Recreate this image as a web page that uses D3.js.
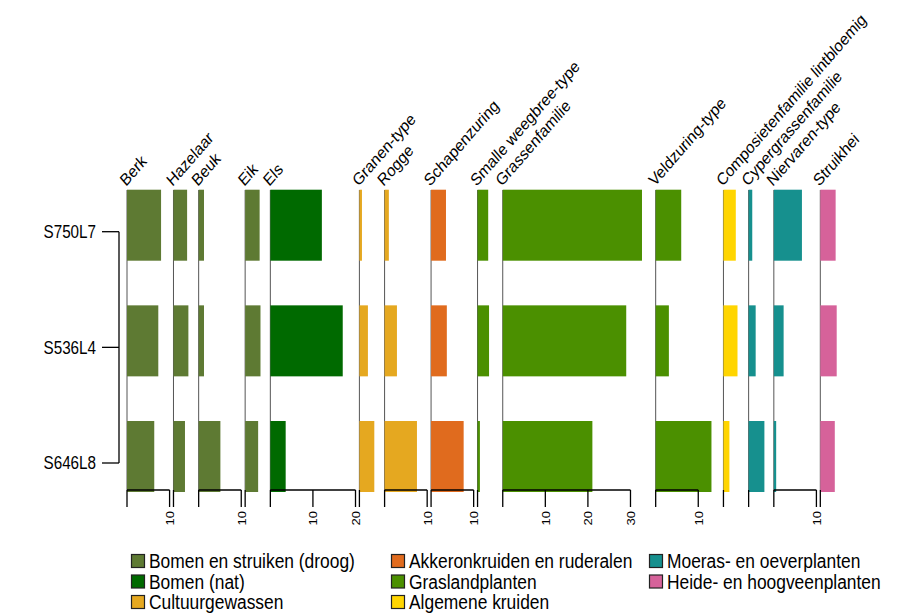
<!DOCTYPE html>
<html><head><meta charset="utf-8">
<script src="https://cdn.jsdelivr.net/npm/d3@7"></script>
<style>body{margin:0;background:#fff}svg{display:block}text{font-family:"Liberation Sans",Arial,sans-serif}</style>
</head><body><svg id="c" width="898" height="615"></svg>
<script>
const samples = ["S750L7","S536L4","S646L8"];
const taxa = ["Berk","Hazelaar","Beuk","Eik","Els","Granen-type","Rogge","Schapenzuring",
  "Smalle weegbree-type","Grassenfamilie","Veldzuring-type","Composietenfamilie lintbloemig",
  "Cypergrassenfamilie","Niervaren-type","Struikhei"];
const taxonGroup = ["droog","droog","droog","droog","nat","cultuur","cultuur","akker",
  "grasland","grasland","grasland","algemeen","moeras","moeras","heide"];
const valsS750L7 = [8.0,3.2,1.25,3.4,12.1,0.6,1.0,3.5,2.5,32.7,6.0,2.9,0.85,6.6,3.6];
const valsS536L4 = [7.35,3.5,1.25,3.6,17.0,2.0,2.9,3.7,2.7,29.0,3.1,3.3,1.65,2.3,3.85];
const valsS646L8 = [6.4,2.7,5.1,3.05,3.6,3.5,7.6,7.65,0.55,21.05,13.1,1.4,3.7,0.55,3.4];
const groupKeys = ["droog","nat","cultuur","akker","grasland","algemeen","moeras","heide"];
const groupLabels = ["Bomen en struiken (droog)","Bomen (nat)","Cultuurgewassen",
  "Akkeronkruiden en ruderalen","Graslandplanten","Algemene kruiden",
  "Moeras- en oeverplanten","Heide- en hoogveenplanten"];
const groupColors = ["#5e7a33","#006a00","#e5a820","#e06b1e","#4b9000","#ffd500","#16908e","#d6629a"];

const values = [valsS750L7, valsS536L4, valsS646L8];
const color = d3.scaleOrdinal(groupKeys, groupColors);
const svg = d3.select("#c");
const SX = 0.87; // horizontal squeeze of the lettering

// column layout
const plotL = 127, plotR = 841.6, gap = 3.9;
const colMax = taxa.map((t,i) => Math.ceil(d3.max(values, v => v[i]) / 5) * 5);
const totalUnits = d3.sum(colMax);
const k = (plotR - plotL - gap * (taxa.length - 1)) / totalUnits;
let cursor = plotL;
const xs = colMax.map(m => { const s = d3.scaleLinear().domain([0, m]).range([cursor, cursor + m * k]); cursor += m * k + gap; return s; });

const y = d3.scaleLinear().domain([0, samples.length - 1]).range([231.7, 463]);
const barTop = -42, barH = 71;
const topY = 190, botY = 490;

// column baselines
taxa.forEach((t,i) => {
  svg.append("line").attr("x1", xs[i](0)).attr("x2", xs[i](0)).attr("y1", topY).attr("y2", botY)
    .attr("stroke", "#555").attr("stroke-width", 1);
});

// bars
samples.forEach((s, j) => {
  svg.append("g").selectAll("rect").data(values[j]).join("rect")
    .attr("x", (d,i) => xs[i](0))
    .attr("width", (d,i) => xs[i](d) - xs[i](0))
    .attr("y", y(j) + barTop).attr("height", barH)
    .attr("fill", (d,i) => color(taxonGroup[i]));
});

// bottom axes
taxa.forEach((t,i) => {
  const sc = xs[i];
  const ticks = d3.range(0, colMax[i] + 0.001, 10);
  const g = svg.append("g");
  if (ticks.length > 1) g.append("line").attr("x1", sc(0)).attr("x2", sc(ticks[ticks.length-1]))
    .attr("y1", botY).attr("y2", botY).attr("stroke", "#000").attr("stroke-width", 1.3);
  ticks.forEach(tv => {
    g.append("line").attr("x1", sc(tv)).attr("x2", sc(tv)).attr("y1", botY).attr("y2", botY + 17)
      .attr("stroke", "#000").attr("stroke-width", 1.3);
    if (tv > 0) g.append("text").attr("transform", `translate(${sc(tv)+4.5},${botY + 21}) scale(${SX},1) rotate(-90)`)
      .attr("text-anchor", "end").attr("font-size", 13).text(tv);
  });
});

// taxon labels
taxa.forEach((t,i) => {
  svg.append("text").attr("transform", `translate(${xs[i](0) - 1},187) scale(${SX},1) rotate(-45)`)
    .attr("font-size", 17).text(t);
});

// sample axis
const yg = svg.append("g");
yg.append("line").attr("x1", 119).attr("x2", 119).attr("y1", y(0)).attr("y2", y(samples.length-1))
  .attr("stroke", "#000").attr("stroke-width", 1.3);
samples.forEach((s,j) => {
  yg.append("line").attr("x1", 102).attr("x2", 119).attr("y1", y(j)).attr("y2", y(j))
    .attr("stroke", "#000").attr("stroke-width", 1.3);
  yg.append("text").attr("transform", `translate(96,${y(j)}) scale(${SX},1)`).attr("dy", "0.36em")
    .attr("text-anchor", "end").attr("font-size", 17.5).text(s);
});

// legend
const legX = [131, 391, 649], legY = [561, 581.5, 602];
groupKeys.forEach((g, i) => {
  const c = Math.floor(i / 3), r = i % 3;
  const lg = svg.append("g").attr("transform", `translate(${legX[c]},${legY[r]})`);
  lg.append("rect").attr("x", 0.5).attr("y", -6.5).attr("width", 13).attr("height", 13)
    .attr("fill", color(g)).attr("stroke", "#222").attr("stroke-width", 1.2);
  lg.append("text").attr("transform", `translate(18,0) scale(${SX},1)`).attr("dy", "0.36em")
    .attr("font-size", 20).text(groupLabels[i]);
});
</script></body></html>
